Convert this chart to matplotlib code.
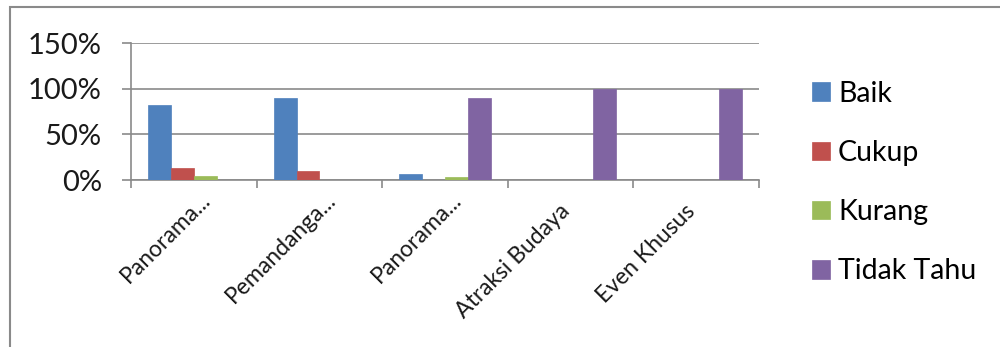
import matplotlib
matplotlib.use("Agg")
import matplotlib.pyplot as plt
import matplotlib.transforms as mtransforms
import numpy as np
from matplotlib.patches import Rectangle
from matplotlib.ticker import FuncFormatter, MultipleLocator

plt.rcParams['font.family'] = ['Lato', 'DejaVu Sans']

categories = ["Panorama...", "Pemandanga...", "Panorama...", "Atraksi Budaya", "Even Khusus"]
series_names = ["Baik", "Cukup", "Kurang", "Tidak Tahu"]
baik = [82, 90, 7, 0, 0]
cukup = [13, 10, 0, 0, 0]
kurang = [5, 0, 3, 0, 0]
tidak_tahu = [0, 0, 90, 100, 100]
colors = ["#4F81BD", "#C0504D", "#9BBB59", "#8064A2"]

series = [baik, cukup, kurang, tidak_tahu]

fig = plt.figure(figsize=(10, 3.47), dpi=100)
ax = fig.add_axes([0.131, 0.481, 0.628, 0.395])

n = len(categories)
x = np.arange(n)
gap = 1.5
w = 1.0 / (len(series) + gap)
bars = []
for i, (vals, col, name) in enumerate(zip(series, colors, series_names)):
    offs = -0.5 + gap * w / 2 + (i + 0.5) * w
    b = ax.bar(x + offs, vals, width=w, color=col, label=name,
               edgecolor=col, linewidth=0.5, zorder=3)
    bars.append(b)

ax.set_xlim(-0.5, n - 0.5)
ax.set_ylim(0, 150)
ax.yaxis.set_major_locator(MultipleLocator(50))
ax.yaxis.set_major_formatter(FuncFormatter(lambda v, p: f"{int(v)}%"))
ax.grid(axis='y', color='#8a8a8a', linewidth=1.2, zorder=0)

for s in ['top', 'right']:
    ax.spines[s].set_visible(False)
for s in ['left', 'bottom']:
    ax.spines[s].set_color('#8a8a8a')
    ax.spines[s].set_linewidth(1.2)

ax.set_xticks(np.arange(-0.5, n, 1.0))
ax.set_xticklabels([])
ax.tick_params(axis='x', length=6, width=1.2, color='#8a8a8a', direction='out')
ax.tick_params(axis='y', length=6.5, width=1.2, color='#8a8a8a', direction='out',
               labelsize=21, pad=14.5, labelcolor='#1a1a1a')

# category labels, rotated; shortened labels sit a little further along the slant
for xi, lab in zip(x, categories):
    trans = ax.get_xaxis_transform()
    if lab.endswith("..."):
        trans = trans + mtransforms.ScaledTranslation(13 / 72, 8 / 72, fig.dpi_scale_trans)
    ax.text(xi, -0.234, lab, transform=trans,
            rotation=45, rotation_mode='anchor', ha='right', va='baseline',
            fontsize=16.5, color='#1a1a1a')

fig.legend(handles=bars, labels=series_names, loc='center left',
           bbox_to_anchor=(0.812, 0.474), frameon=False, fontsize=20.5,
           handlelength=0.63, handleheight=0.63, handletextpad=0.28,
           labelspacing=1.165, borderaxespad=0, borderpad=0)

fig.add_artist(Rectangle((0.010, -0.1), 1.2, 1.08, transform=fig.transFigure,
                         fill=False, edgecolor='#8a8a8a', linewidth=1.5,
                         clip_on=False))

fig.savefig("out.png", dpi=100, facecolor='white')
